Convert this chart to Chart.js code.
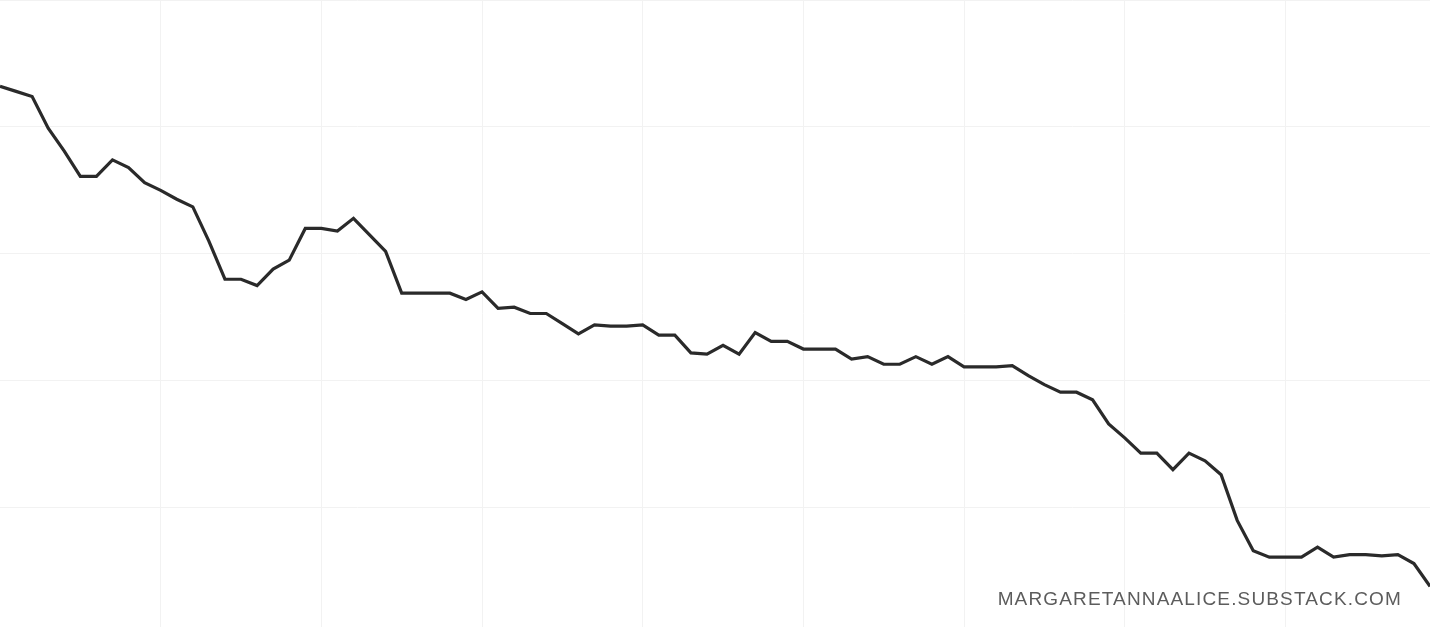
<!DOCTYPE html>
<html>
<head>
<meta charset="utf-8">
<script src="https://cdn.jsdelivr.net/npm/chart.js@4/dist/chart.umd.min.js"></script>
<style>
  html, body { margin: 0; padding: 0; background: #fff; }
  #wrap { position: relative; width: 1456px; height: 627px; }
  #credit {
    position: absolute;
    right: 54px;
    top: 588px;
    font-family: "Liberation Sans", Arial, sans-serif;
    font-size: 19px;
    line-height: 22px;
    letter-spacing: 1.15px;
    color: #5c5c5c;
  }
</style>
</head>
<body>
<div id="wrap">
  <canvas id="myChart" width="1456" height="627"></canvas>
  <div id="credit">MARGARETANNAALICE.SUBSTACK.COM</div>
</div>
<script>
const ctx = document.getElementById("myChart").getContext("2d");

// x positions (one per period)
const labels = Array.from({ length: 90 }, (_, i) => i);

// values
const values = [
  43.2, 42.8, 42.4, 39.9, 38.1, 36.1, 36.1, 37.4, 36.8, 35.6,
  35.0, 34.3, 33.7, 31.0, 28.0, 28.0, 27.5, 28.8, 29.5, 32.0,
  32.0, 31.8, 32.8, 31.5, 30.2, 26.9, 26.9, 26.9, 26.9, 26.4,
  27.0, 25.7, 25.8, 25.3, 25.3, 24.5, 23.7, 24.4, 24.3, 24.3,
  24.4, 23.6, 23.6, 22.2, 22.1, 22.8, 22.1, 23.8, 23.1, 23.1,
  22.5, 22.5, 22.5, 21.7, 21.9, 21.3, 21.3, 21.9, 21.3, 21.9,
  21.1, 21.1, 21.1, 21.2, 20.4, 19.7, 19.1, 19.1, 18.5, 16.6,
  15.5, 14.3, 14.3, 13.0, 14.3, 13.7, 12.6, 9.0, 6.6, 6.1,
  6.1, 6.1, 6.9, 6.1, 6.3, 6.3, 6.2, 6.3, 5.6, 3.8
];

const points = labels.map((x, i) => ({ x, y: values[i] }));

new Chart(ctx, {
  type: "line",
  data: {
    datasets: [
      {
        data: points,
        borderColor: "#2a2a2a",
        borderWidth: 3.2,
        fill: false,
        tension: 0,
        pointRadius: 0,
      },
    ],
  },
  options: {
    responsive: false,
    animation: false,
    layout: {
      padding: { left: 0, top: 0, right: 26, bottom: 0 },
    },
    scales: {
      x: {
        type: "linear",
        min: 0,
        max: 89,
        border: { display: false },
        grid: {
          // 左右兩邊不畫線
          color: (c) => (c.tick && c.tick.value % 10 === 0 && c.tick.value !== 0 ? "#f2f2f2" : "rgba(0,0,0,0)"),
          lineWidth: 1,
          drawTicks: false,
        },
        ticks: { display: false, stepSize: 10 },
      },
      y: {
        min: 0.6,
        max: 50,
        border: { display: false },
        grid: { color: "#f2f2f2", lineWidth: 1, drawTicks: false },
        ticks: { display: false, stepSize: 10 },
      },
    },
    plugins: {
      legend: { display: false },
      tooltip: { enabled: false },
    },
  },
});
</script>
</body>
</html>
